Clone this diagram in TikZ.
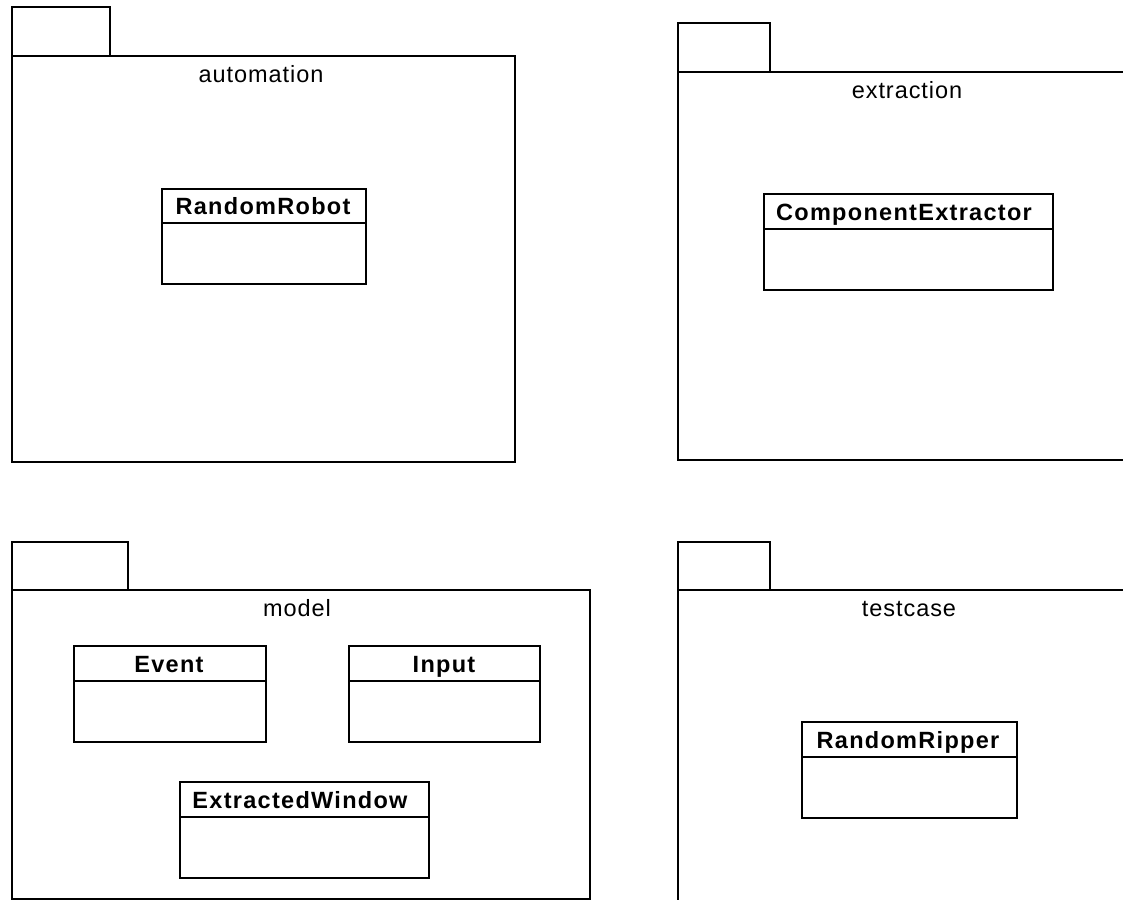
\documentclass[tikz,border=0pt]{standalone}
\usepackage{fontspec}
\setmainfont{Liberation Sans}
\newfontfamily\pkgfont[LetterSpace=4]{Liberation Sans}
\newfontfamily\clsfont[LetterSpace=5.5]{Liberation Sans}
\tikzset{
  box/.style={draw, line width=1.8pt, inner sep=0pt, anchor=north west},
  pkglabel/.style={anchor=base, inner sep=0pt, font=\fontsize{23.5}{26}\pkgfont},
  clslabel/.style={anchor=base, inner sep=0pt, font=\fontsize{23.5}{26}\clsfont\bfseries},
  divider/.style={line width=1.8pt}
}
\begin{document}
\begin{tikzpicture}[x=1pt,y=-1pt]
\useasboundingbox (0,0) rectangle (1123,899);
\fill[white] (0,0) rectangle (1123,899);

% ---------- automation ----------
\node[box, minimum width=98pt, minimum height=49pt] (autotab) at (11,6) {};
\node[box, minimum width=503pt, minimum height=406pt] (autobody) at (11,55) {};
\node[pkglabel] (autolbl) at (261,82) {automation};
\node[box, minimum width=204pt, minimum height=95pt] (rr) at (161,188) {};
\draw[divider] ([yshift=-35pt]rr.north west) -- ([yshift=-35pt]rr.north east);
\node[clslabel] (rrlbl) at (263,214) {RandomRobot};

% ---------- extraction ----------
\node[box, minimum width=92pt, minimum height=49pt] (extab) at (677,22) {};
\node[box, minimum width=460pt, minimum height=388pt] (exbody) at (677,71) {};
\node[pkglabel] (exlbl) at (907,98) {extraction};
\node[box, minimum width=289pt, minimum height=96pt] (ce) at (763,193) {};
\draw[divider] ([yshift=-36pt]ce.north west) -- ([yshift=-36pt]ce.north east);
\node[clslabel] (celbl) at (904,220) {ComponentExtractor};

% ---------- model ----------
\node[box, minimum width=116pt, minimum height=48pt] (mtab) at (11,541) {};
\node[box, minimum width=578pt, minimum height=309pt] (mbody) at (11,589) {};
\node[pkglabel] (mlbl) at (297,616) {model};
\node[box, minimum width=192pt, minimum height=96pt] (ev) at (73,645) {};
\draw[divider] ([yshift=-36pt]ev.north west) -- ([yshift=-36pt]ev.north east);
\node[clslabel] (evlbl) at (169,672) {Event};
\node[box, minimum width=191pt, minimum height=96pt] (in) at (348,645) {};
\draw[divider] ([yshift=-36pt]in.north west) -- ([yshift=-36pt]in.north east);
\node[clslabel] (inlbl) at (444,672) {Input};
\node[box, minimum width=249pt, minimum height=96pt] (ew) at (179,781) {};
\draw[divider] ([yshift=-36pt]ew.north west) -- ([yshift=-36pt]ew.north east);
\node[clslabel] (ewlbl) at (300,808) {ExtractedWindow};

% ---------- testcase ----------
\node[box, minimum width=92pt, minimum height=48pt] (ttab) at (677,541) {};
\node[box, minimum width=460pt, minimum height=330pt] (tbody) at (677,589) {};
\node[pkglabel] (tlbl) at (909,616) {testcase};
\node[box, minimum width=215pt, minimum height=96pt] (rp) at (801,721) {};
\draw[divider] ([yshift=-36pt]rp.north west) -- ([yshift=-36pt]rp.north east);
\node[clslabel] (rplbl) at (908,748) {RandomRipper};
\end{tikzpicture}
\end{document}
